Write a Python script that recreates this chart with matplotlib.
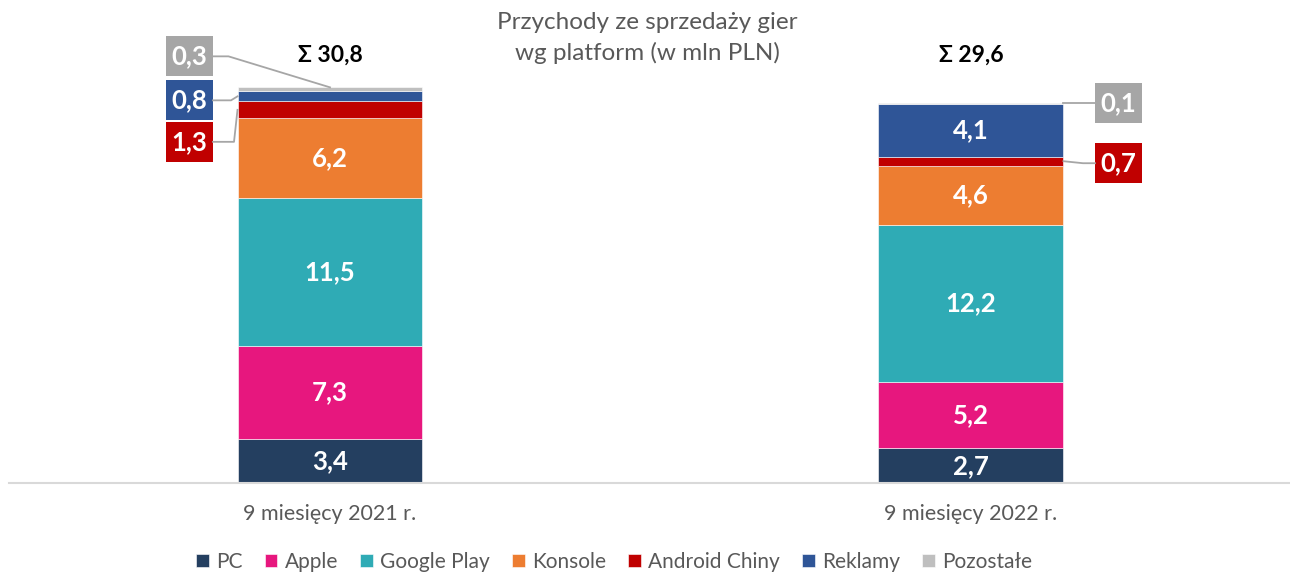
import matplotlib
matplotlib.use("Agg")
import matplotlib.pyplot as plt
from matplotlib.transforms import IdentityTransform
from matplotlib.patches import Rectangle
import numpy as np

plt.rcParams['font.family'] = ['Lato', 'DejaVu Sans']

categories = ["9 miesięcy 2021 r.", "9 miesięcy 2022 r."]
series = ["PC", "Apple", "Google Play", "Konsole", "Android Chiny", "Reklamy", "Pozostałe"]
values_2021 = [3.4, 7.3, 11.5, 6.2, 1.3, 0.8, 0.3]
values_2022 = [2.7, 5.2, 12.2, 4.6, 0.7, 4.1, 0.1]
totals = ["Σ 30,8", "Σ 29,6"]
title = "Przychody ze sprzedaży gier\nwg platform (w mln PLN)"

colors = ["#243F60", "#E7177E", "#2FABB5", "#ED7D31", "#C00000", "#2F5597", "#BFBFBF"]
box_colors = ["#243F60", "#E7177E", "#2FABB5", "#ED7D31", "#C00000", "#2F5597", "#A6A6A6"]
text_gray = "#595959"
line_gray = "#A6A6A6"

# outside callouts: (bar, series) -> (anchor kind, box offset px, elbow x offset from box edge px)
callouts = {
    (0, 6): ("top", (-141, 31), 16),
    (0, 5): ("left", (-48, -4), 18),
    (0, 4): ("left", (-48, -32), 21),
    (1, 6): ("right", (55, 0), -12),
    (1, 4): ("right", (55, -2), -12),
}
box_w, box_h = 47, 40

data = np.array([values_2021, values_2022])
x = np.arange(len(categories))
width = 0.2886

fig = plt.figure(figsize=(12.9, 5.74), dpi=100)
ax = fig.add_axes([9 / 1290, 1 - 483 / 574, 1 - 9 / 1290, 483 / 574])
ax.set_xlim(-0.5008, 1.4977)
ax.set_ylim(0, 37.6)

bottoms = np.zeros(len(categories))
pending = []
for i, name in enumerate(series):
    ax.bar(x, data[:, i], width, bottom=bottoms, color=colors[i], label=name,
           edgecolor="white", linewidth=0.4)
    for b in range(len(categories)):
        v = data[b, i]
        mid = bottoms[b] + v / 2
        txt = f"{v:.1f}".replace(".", ",")
        if (b, i) in callouts:
            kind, off, elbow = callouts[(b, i)]
            if kind == "top":
                anchor = (x[b], bottoms[b] + v)
            elif kind == "left":
                anchor = (x[b] - width / 2, mid)
            else:
                anchor = (x[b] + width / 2, mid)
            pending.append((anchor, off, elbow, txt, box_colors[i]))
        else:
            ax.text(x[b], mid, txt, ha="center", va="center", color="white",
                    fontsize=18.5, fontweight="bold")
    bottoms += data[:, i]

for anchor, off, elbow, txt, col in pending:
    ax_px, ay_px = ax.transData.transform(anchor)
    bx, by = ax_px + off[0], ay_px + off[1]
    edge = bx + box_w / 2 if off[0] < 0 else bx - box_w / 2
    fig.add_artist(plt.Line2D([ax_px, edge + elbow, edge], [ay_px, by, by],
                              transform=IdentityTransform(), color=line_gray, lw=1.3))
    fig.add_artist(Rectangle((bx - box_w / 2, by - box_h / 2), box_w, box_h,
                             transform=IdentityTransform(), fc=col, ec="none"))
    fig.text(bx, by, txt, transform=IdentityTransform(), ha="center", va="center",
             color="white", fontsize=18.5, fontweight="bold")

for b in range(len(categories)):
    ax.text(x[b], 33.3, totals[b], ha="center", va="center",
            fontsize=16.5, fontweight="bold", color="black")

fig.text(647 / 1290, 1 - 38 / 574, title, ha="center", va="center",
         fontsize=17.5, color=text_gray, linespacing=1.45)

for s in ["top", "right", "left"]:
    ax.spines[s].set_visible(False)
ax.spines["bottom"].set_color("#D9D9D9")
ax.spines["bottom"].set_linewidth(1.5)
ax.set_yticks([])
ax.set_xticks(x)
ax.set_xticklabels(categories, fontsize=15.5, color=text_gray)
ax.tick_params(axis="x", length=0, pad=15)

fig.legend(loc="center", bbox_to_anchor=(0.476, 0.021), ncol=7, frameon=False,
           fontsize=15, handlelength=0.62, handleheight=0.62, handletextpad=0.35,
           columnspacing=1.05, labelcolor=text_gray)

fig.savefig("out.png", dpi=100)
